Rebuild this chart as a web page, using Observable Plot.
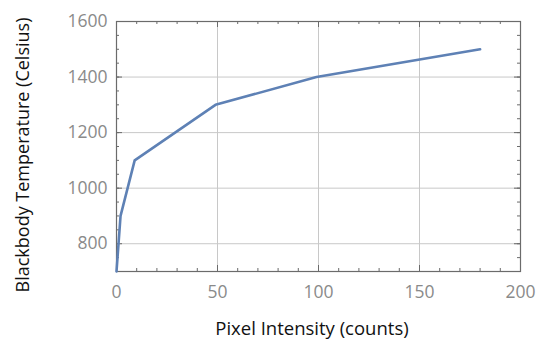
<!DOCTYPE html>
<html>
<head>
<meta charset="utf-8">
<script src="https://cdn.jsdelivr.net/npm/d3@7"></script>
<script src="https://cdn.jsdelivr.net/npm/@observablehq/plot@0.6"></script>
<style>
  html, body { margin: 0; padding: 0; background: #fff; }
  #chart { width: 536px; height: 346px; }
</style>
</head>
<body>
<div id="chart"></div>
<script>
// Data
const intensity = [0, 2, 9, 49, 99, 180];
const temperature = [700, 900, 1100, 1300, 1400, 1500];
const xMajor = [0, 50, 100, 150, 200];
const yMajor = [800, 1000, 1200, 1400, 1600];
const xMinor = d3.range(0, 201, 10);
const yMinor = d3.range(700, 1601, 50);
const xTitle = "Pixel Intensity (counts)";
const yTitle = "Blackbody Temperature (Celsius)";

const data = intensity.map((x, i) => ({x, y: temperature[i]}));
const frameColor = "#6b6b6b";
const labelColor = "#8a8a8a";
const W = 536, H = 346, mL = 116, mR = 16, mT = 21, mB = 75;
const pw = W - mL - mR, ph = H - mT - mB;
const minorLen = 3, majorLen = 6;

const chart = Plot.plot({
  width: W,
  height: H,
  marginLeft: mL,
  marginRight: mR,
  marginTop: mT,
  marginBottom: mB,
  style: {fontFamily: "'Open Sans', sans-serif", background: "#fff"},
  x: {domain: [0, 200]},
  y: {domain: [700, 1600]},
  marks: [
    Plot.gridX(xMajor, {stroke: "#c8c8c8", strokeOpacity: 1, strokeWidth: 1}),
    Plot.gridY(yMajor, {stroke: "#c8c8c8", strokeOpacity: 1, strokeWidth: 1}),
    // inward minor ticks on all four sides
    Plot.ruleX(xMinor, {stroke: frameColor, insetTop: ph - minorLen}),
    Plot.ruleX(xMinor, {stroke: frameColor, insetBottom: ph - minorLen}),
    Plot.ruleY(yMinor, {stroke: frameColor, insetLeft: pw - minorLen}),
    Plot.ruleY(yMinor, {stroke: frameColor, insetRight: pw - minorLen}),
    // inward major ticks
    Plot.ruleX(xMajor, {stroke: frameColor, insetTop: ph - majorLen}),
    Plot.ruleX(xMajor, {stroke: frameColor, insetBottom: ph - majorLen}),
    Plot.ruleY(yMajor, {stroke: frameColor, insetLeft: pw - majorLen}),
    Plot.ruleY(yMajor, {stroke: frameColor, insetRight: pw - majorLen}),
    // tick labels
    Plot.axisX({anchor: "bottom", ticks: xMajor, tickSize: 0, tickPadding: 14, tickFormat: d3.format("d"),
      fill: labelColor, fontSize: 17.5, label: null}),
    Plot.axisY({anchor: "left", ticks: yMajor, tickSize: 0, tickPadding: 9, tickFormat: d3.format("d"),
      fill: labelColor, fontSize: 17.5, label: null}),
    Plot.frame({stroke: frameColor, strokeWidth: 1.2}),
    Plot.line(data, {x: "x", y: "y", stroke: "#5e81b5", strokeWidth: 2.6, strokeLinejoin: "round"})
  ]
});

const svg = d3.select(chart);
svg.append("text")
  .attr("x", 312).attr("y", 335)
  .attr("text-anchor", "middle")
  .attr("font-family", "'Open Sans', sans-serif")
  .attr("font-size", 18.5)
  .attr("fill", "#111")
  .text(xTitle);
svg.append("text")
  .attr("transform", "translate(29,155) rotate(-90)")
  .attr("text-anchor", "middle")
  .attr("font-family", "'Open Sans', sans-serif")
  .attr("font-size", 18)
  .attr("fill", "#111")
  .text(yTitle);

document.getElementById("chart").appendChild(chart);
</script>
</body>
</html>
